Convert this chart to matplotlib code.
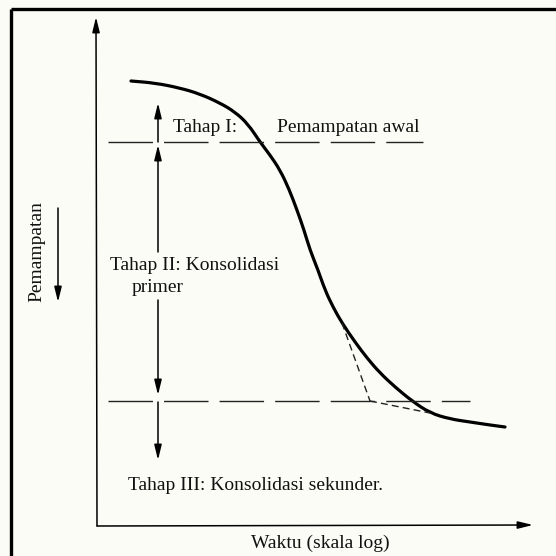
import numpy as np
import matplotlib
matplotlib.use('Agg')
import matplotlib.pyplot as plt
from matplotlib.path import Path
from matplotlib.patches import PathPatch

# Curve of settlement vs log time (pixel space, y down)
curve_t = [131, 155, 180, 200, 220, 235, 248, 260, 270, 280, 289, 297, 304, 310,
           318, 325, 333, 342, 355, 367, 380, 395, 412, 430, 450, 470, 490, 505]
curve_s = [81, 83, 88, 94, 103, 112, 124, 142, 155, 170, 189, 210, 230, 250,
           270, 290, 307, 323, 342, 358, 373, 387, 401, 413, 419, 422, 425, 427]

# Horizontal dashed levels: end of stage I and end of stage II
level_y = [142, 401]
level_x0 = [108, 108]
level_x1 = [423, 470]

# Tangent construction (Casagrande) for end of primary consolidation
tangent_t = [342, 370, 430]
tangent_s = [323, 401, 413]

# Stage arrows (tail, tip) along x = 158
arrow_x = 158
stage_arrows = [(142, 103), (252, 145), (300, 395), (402, 460)]

labels = [
    ("Tahap I:", 173, 128, 'left'),
    ("Pemampatan awal", 277, 128, 'left'),
    ("Tahap II: Konsolidasi", 110, 265, 'left'),
    ("primer", 132, 288, 'left'),
    ("Tahap III: Konsolidasi sekunder.", 128, 485, 'left'),
    ("Waktu (skala log)", 320, 543, 'center'),
]

W, H = 556, 556
bg = '#fcfcf6'
fig = plt.figure(figsize=(W / 100, H / 100), dpi=100, facecolor=bg)
ax = fig.add_axes([0, 0, 1, 1])
ax.set_xlim(0, W)
ax.set_ylim(H, 0)
ax.axis('off')
ax.set_facecolor(bg)

plt.rcParams['font.family'] = ['Liberation Serif', 'DejaVu Serif']

# outer frame (only top and left visible)
ax.plot([11, W], [9, 9], color='k', lw=2.4, solid_capstyle='butt')
ax.plot([11, 11], [9, H], color='k', lw=2.4, solid_capstyle='butt')

# axes
arr = dict(arrowstyle='-|>,head_length=0.9,head_width=0.22', color='k', lw=1.1,
           shrinkA=0, shrinkB=0)
ax.annotate('', xy=(96, 17), xytext=(97, 526), arrowprops=arr)
ax.annotate('', xy=(533, 525), xytext=(97, 526), arrowprops=arr)

# curve: smooth quadratic pieces through the midpoints of the read points
pts = np.column_stack([curve_t, curve_s]).astype(float)
mids = (pts[:-1] + pts[1:]) / 2
verts = [pts[0], mids[0]]
codes = [Path.MOVETO, Path.LINETO]
for i in range(1, len(pts) - 1):
    verts += [pts[i], mids[i]]
    codes += [Path.CURVE3, Path.CURVE3]
verts.append(pts[-1])
codes.append(Path.LINETO)
ax.add_patch(PathPatch(Path(verts, codes), fill=False, color='k', lw=2.3,
                       capstyle='round', joinstyle='round'))

# dashed levels
for y, x0, x1 in zip(level_y, level_x0, level_x1):
    ax.plot([x0, x1], [y, y], color='#222222', lw=1.0, dashes=(32, 8))

# tangent lines
ax.plot(tangent_t[:2], tangent_s[:2], color='#222222', lw=1.0, dashes=(5, 3))
ax.plot(tangent_t[1:], tangent_s[1:], color='#222222', lw=1.0, dashes=(5, 3))

# stage arrows
for tail, tip in stage_arrows:
    ax.annotate('', xy=(arrow_x, tip), xytext=(arrow_x, tail), arrowprops=arr)

# "Pemampatan" axis label with down arrow
ax.text(37, 252, "Pemampatan", rotation=90, ha='center', va='center', fontsize=14,
        color='#111111')
ax.annotate('', xy=(58, 302), xytext=(58, 208), arrowprops=arr)

for txt, x, y, ha in labels:
    ax.text(x, y, txt, ha=ha, va='center', fontsize=14, color='#111111')

fig.savefig('out.png', dpi=100, facecolor=bg)
